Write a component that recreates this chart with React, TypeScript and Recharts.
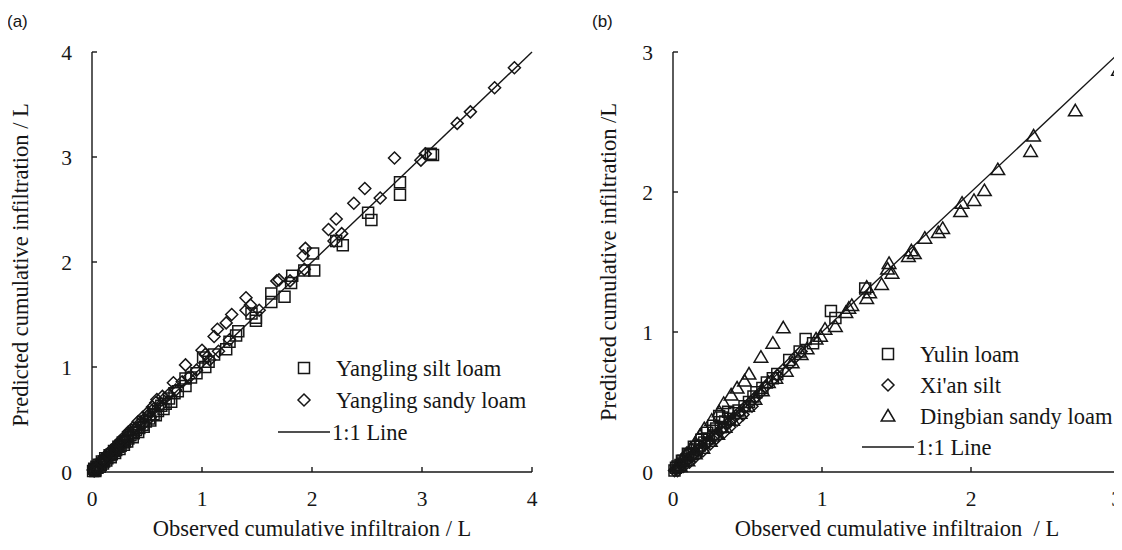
import React from "react";
import { ScatterChart, Scatter, XAxis, YAxis, ReferenceLine, Legend } from "recharts";

const INK = "#161616";
const SERIF = "'Liberation Serif', 'Times New Roman', serif";

// (a) Yangling silt loam (squares)
const siltObs = [
    0.01, 0.02, 0.03, 0.04, 0.05, 0.06, 0.08, 0.09, 0.11, 0.12, 0.14, 0.16, 0.18, 0.2, 0.22, 0.24,
    0.26, 0.28, 0.3, 0.33, 0.35, 0.38, 0.4, 0.43, 0.46, 0.49, 0.52, 0.56, 0.6, 0.63, 0.67, 0.7,
    0.75, 0.78, 0.85, 0.85, 0.9, 0.95, 1.01, 1.03, 1.06, 1.11, 1.22, 1.25, 1.31, 1.33, 1.45, 1.49,
    1.49, 1.63, 1.63, 1.75, 1.81, 1.82, 1.93, 2.01, 2.02, 2.22, 2.28, 2.51, 2.54, 2.8, 2.8, 3.08, 3.1,
    0.03, 0.07, 0.1, 0.13, 0.17, 0.21, 0.25, 0.29, 0.32, 0.37, 0.42, 0.47, 0.53, 0.58, 0.65, 0.72,
];
const siltPred = [
    0.01, 0.03, 0.02, 0.05, 0.04, 0.07, 0.07, 0.1, 0.1, 0.13, 0.13, 0.16, 0.17, 0.2, 0.21, 0.24,
    0.25, 0.28, 0.29, 0.32, 0.35, 0.37, 0.4, 0.42, 0.45, 0.48, 0.51, 0.55, 0.58, 0.63, 0.65, 0.7,
    0.75, 0.77, 0.82, 0.89, 0.9, 0.94, 1.09, 1.0, 1.05, 1.12, 1.17, 1.24, 1.3, 1.34, 1.51, 1.44,
    1.47, 1.62, 1.7, 1.67, 1.8, 1.87, 1.92, 2.08, 1.92, 2.2, 2.16, 2.47, 2.4, 2.76, 2.64, 3.03, 3.02,
    0.01, 0.05, 0.08, 0.11, 0.14, 0.18, 0.22, 0.26, 0.29, 0.33, 0.38, 0.43, 0.49, 0.54, 0.6, 0.67,
];

// (a) Yangling sandy loam (diamonds)
const sandyObs = [
    0.01, 0.02, 0.03, 0.05, 0.06, 0.07, 0.09, 0.1, 0.12, 0.13, 0.15, 0.17, 0.19, 0.21, 0.23, 0.25,
    0.27, 0.29, 0.31, 0.34, 0.36, 0.39, 0.41, 0.44, 0.47, 0.5, 0.53, 0.56, 0.59, 0.62, 0.66, 0.7,
    0.74, 0.76, 0.82, 0.85, 0.88, 0.95, 1.0, 1.03, 1.07, 1.11, 1.14, 1.15, 1.22, 1.27, 1.25, 1.4,
    1.4, 1.44, 1.52, 1.68, 1.7, 1.8, 1.92, 1.93, 1.94, 2.15, 2.2, 2.22, 2.27, 2.38, 2.48, 2.62,
    2.75, 2.99, 3.03, 3.32, 3.44, 3.66, 3.84,
    0.04, 0.08, 0.11, 0.14, 0.18, 0.22, 0.26, 0.3, 0.33, 0.37, 0.42, 0.46, 0.51, 0.55, 0.58, 0.64,
];
const sandyPred = [
    0.02, 0.01, 0.04, 0.06, 0.05, 0.09, 0.08, 0.12, 0.11, 0.15, 0.14, 0.19, 0.18, 0.23, 0.22, 0.27,
    0.26, 0.31, 0.3, 0.36, 0.35, 0.41, 0.4, 0.47, 0.46, 0.53, 0.52, 0.6, 0.69, 0.63, 0.7, 0.74,
    0.85, 0.78, 0.86, 1.02, 0.9, 0.97, 1.16, 1.12, 1.07, 1.29, 1.36, 1.15, 1.42, 1.5, 1.26, 1.54,
    1.66, 1.59, 1.54, 1.82, 1.83, 1.82, 2.06, 1.93, 2.13, 2.31, 2.2, 2.41, 2.27, 2.56, 2.7, 2.61,
    2.99, 2.97, 3.03, 3.32, 3.43, 3.66, 3.85,
    0.03, 0.1, 0.13, 0.17, 0.21, 0.25, 0.3, 0.34, 0.38, 0.42, 0.48, 0.52, 0.57, 0.62, 0.66, 0.72,
];

// (b) Yulin loam (squares)
const yulinObs = [
    0.01, 0.03, 0.05, 0.07, 0.09, 0.11, 0.13, 0.16, 0.18, 0.21, 0.24, 0.27, 0.29, 0.32, 0.31, 0.35,
    0.38, 0.41, 0.44, 0.48, 0.51, 0.54, 0.56, 0.6, 0.63, 0.67, 0.7, 0.78, 0.85, 0.89, 0.94, 1.06,
    1.09, 1.29, 0.02, 0.06, 0.1, 0.14, 0.19, 0.23, 0.27, 0.33, 0.37,
];
const yulinPred = [
    0.01, 0.04, 0.05, 0.08, 0.09, 0.12, 0.13, 0.16, 0.19, 0.21, 0.24, 0.26, 0.31, 0.32, 0.4, 0.36,
    0.38, 0.42, 0.44, 0.47, 0.5, 0.54, 0.57, 0.6, 0.64, 0.67, 0.7, 0.8, 0.86, 0.95, 0.92, 1.15,
    1.1, 1.31, 0.03, 0.08, 0.13, 0.18, 0.23, 0.28, 0.33, 0.39, 0.43,
];

// (b) Xi'an silt (diamonds)
const xianObs = [
    0.01, 0.02, 0.04, 0.06, 0.08, 0.1, 0.12, 0.14, 0.17, 0.19, 0.22, 0.24, 0.27, 0.3, 0.33, 0.36,
    0.39, 0.42, 0.45, 0.48, 0.52, 0.55, 0.58, 0.62, 0.66, 0.7, 0.74, 0.78, 0.82, 0.86,
    0.03, 0.07, 0.11, 0.15, 0.2, 0.25, 0.29, 0.34, 0.38, 0.43, 0.47, 0.53,
];
const xianPred = [
    0.01, 0.02, 0.03, 0.05, 0.07, 0.09, 0.11, 0.13, 0.15, 0.18, 0.2, 0.22, 0.25, 0.28, 0.31, 0.34,
    0.37, 0.4, 0.43, 0.46, 0.5, 0.53, 0.56, 0.61, 0.65, 0.69, 0.73, 0.77, 0.82, 0.86,
    0.01, 0.04, 0.07, 0.11, 0.15, 0.2, 0.24, 0.28, 0.32, 0.37, 0.41, 0.47,
];

// (b) Dingbian sandy loam (triangles)
const dingObs = [
    0.03, 0.06, 0.09, 0.12, 0.15, 0.18, 0.21, 0.26, 0.31, 0.34, 0.39, 0.43, 0.48, 0.51, 0.59, 0.67,
    0.74, 0.05, 0.1, 0.15, 0.2, 0.25, 0.3, 0.35, 0.4, 0.45, 0.5, 0.55, 0.6, 0.64, 0.69, 0.76,
    0.8, 0.86, 0.9, 0.96, 0.99, 1.02, 1.09, 1.16, 1.18, 1.2, 1.3, 1.3, 1.32, 1.4, 1.45, 1.47,
    1.44, 1.58, 1.62, 1.6, 1.69, 1.78, 1.81, 1.93, 1.94, 2.02, 2.09, 2.18, 2.4, 2.42, 2.7, 2.99,
];
const dingPred = [
    0.05, 0.09, 0.13, 0.17, 0.21, 0.26, 0.31, 0.37, 0.43, 0.49, 0.55, 0.6, 0.65, 0.7, 0.82, 0.92,
    1.03, 0.04, 0.08, 0.13, 0.17, 0.22, 0.27, 0.32, 0.37, 0.42, 0.47, 0.52, 0.58, 0.64, 0.67, 0.72,
    0.78, 0.84, 0.88, 0.95, 0.97, 1.02, 1.04, 1.14, 1.17, 1.19, 1.24, 1.32, 1.28, 1.34, 1.49, 1.42,
    1.45, 1.54, 1.56, 1.58, 1.67, 1.71, 1.74, 1.86, 1.92, 1.94, 2.01, 2.16, 2.29, 2.4, 2.58, 2.87,
];

const ticksA = [0, 1, 2, 3, 4];
const ticksB = [0, 1, 2, 3];

const legendA = [
    { label: "Yangling silt loam", kind: "square" },
    { label: "Yangling sandy loam", kind: "diamond" },
    { label: "1:1 Line", kind: "line" },
];
const legendB = [
    { label: "Yulin loam", kind: "square" },
    { label: "Xi'an silt", kind: "diamond" },
    { label: "Dingbian sandy loam", kind: "triangle" },
    { label: "1:1 Line", kind: "line" },
];

const pts = (obs: number[], pred: number[]) => obs.map((x, i) => ({ x, y: pred[i] }));

const mark = { fill: "none", stroke: INK, strokeWidth: 1.5 };

function squarePath(cx: number, cy: number) {
    return `M${cx - 5.5},${cy - 5.5}h11v11h-11Z`;
}
function diamondPath(cx: number, cy: number) {
    return `M${cx},${cy - 6}L${cx + 6},${cy}L${cx},${cy + 6}L${cx - 6},${cy}Z`;
}
function trianglePath(cx: number, cy: number) {
    return `M${cx},${cy - 6.5}L${cx + 6.8},${cy + 5}L${cx - 6.8},${cy + 5}Z`;
}

const Square = (p: any) => <path d={squarePath(p.cx, p.cy)} {...mark} />;
const Diamond = (p: any) => <path d={diamondPath(p.cx, p.cy)} {...mark} />;
const Triangle = (p: any) => <path d={trianglePath(p.cx, p.cy)} {...mark} />;

function LegendBox({ items, left, top, row, lineFrom }: any) {
    const h = top + row * items.length + 20;
    return (
        <svg width={560} height={h} style={{ position: "absolute", left: 0, top: 0, overflow: "visible" }}>
            {items.map((it: any, i: number) => {
                const y = top + i * row;
                let sym = null;
                if (it.kind === "square") sym = <path d={squarePath(left, y)} {...mark} />;
                if (it.kind === "diamond") sym = <path d={diamondPath(left, y)} {...mark} />;
                if (it.kind === "triangle") sym = <path d={trianglePath(left, y)} {...mark} />;
                if (it.kind === "line")
                    sym = <line x1={lineFrom} x2={left + 26} y1={y} y2={y} stroke={INK} strokeWidth={1.5} />;
                return (
                    <g key={it.label}>
                        {sym}
                        <text
                            x={it.kind === "line" ? left + 28 : left + 32}
                            y={y + 7.5}
                            fontFamily={SERIF}
                            fontSize={22.5}
                            fill={INK}
                        >
                            {it.label}
                        </text>
                    </g>
                );
            })}
        </svg>
    );
}

const tickStyle = { fontFamily: SERIF, fontSize: 21.5, fill: INK };

export default function App() {
    return (
        <div style={{ position: "relative", width: 1122, height: 550, margin: -8, background: "#fff", overflow: "hidden" }}>
            <div style={{ position: "absolute", left: 0, top: 0 }}>
                <ScatterChart width={560} height={550} margin={{ top: 52, right: 28, bottom: 48, left: 0 }}>
                    <XAxis
                        type="number"
                        dataKey="x"
                        domain={[0, 4]}
                        ticks={ticksA}
                        height={30}
                        tickSize={-5}
                        tickMargin={24}
                        stroke={INK}
                        strokeWidth={1.4}
                        tick={tickStyle}
                    />
                    <YAxis
                        type="number"
                        dataKey="y"
                        domain={[0, 4]}
                        ticks={ticksA}
                        width={92}
                        tickSize={-5}
                        tickMargin={25}
                        stroke={INK}
                        strokeWidth={1.4}
                        tick={tickStyle}
                    />
                    <ReferenceLine
                        segment={[{ x: 0, y: 0 }, { x: 4, y: 4 }]}
                        stroke={INK}
                        strokeWidth={1.4}
                    />
                    <Scatter name="Yangling silt loam" data={pts(siltObs, siltPred)} shape={Square} isAnimationActive={false} />
                    <Scatter name="Yangling sandy loam" data={pts(sandyObs, sandyPred)} shape={Diamond} isAnimationActive={false} />
                    <Legend
                        layout="vertical"
                        align="center"
                        verticalAlign="middle"
                        wrapperStyle={{ position: "absolute", left: 0, top: 0, width: 560, height: 0 }}
                        content={() => <LegendBox items={legendA} left={304} top={368} row={32} lineFrom={278} />}
                    />
                </ScatterChart>
            </div>
            <div style={{ position: "absolute", left: 560, top: 0 }}>
                <ScatterChart width={562} height={550} margin={{ top: 52, right: 2, bottom: 48, left: 0 }}>
                    <XAxis
                        type="number"
                        dataKey="x"
                        domain={[0, 3]}
                        ticks={ticksB}
                        height={30}
                        tickSize={-5}
                        tickMargin={24}
                        stroke={INK}
                        strokeWidth={1.4}
                        tick={tickStyle}
                    />
                    <YAxis
                        type="number"
                        dataKey="y"
                        domain={[0, 3]}
                        ticks={ticksB}
                        width={113}
                        tickSize={-5}
                        tickMargin={25}
                        stroke={INK}
                        strokeWidth={1.4}
                        tick={tickStyle}
                    />
                    <ReferenceLine
                        segment={[{ x: 0, y: 0 }, { x: 3, y: 3 }]}
                        stroke={INK}
                        strokeWidth={1.4}
                    />
                    <Scatter name="Yulin loam" data={pts(yulinObs, yulinPred)} shape={Square} isAnimationActive={false} />
                    <Scatter name="Xi'an silt" data={pts(xianObs, xianPred)} shape={Diamond} isAnimationActive={false} />
                    <Scatter name="Dingbian sandy loam" data={pts(dingObs, dingPred)} shape={Triangle} isAnimationActive={false} />
                    <Legend
                        layout="vertical"
                        align="center"
                        verticalAlign="middle"
                        wrapperStyle={{ position: "absolute", left: 0, top: 0, width: 562, height: 0 }}
                        content={() => <LegendBox items={legendB} left={328} top={354} row={31} lineFrom={302} />}
                    />
                </ScatterChart>
            </div>
            {/* panel letters and axis titles */}
            <svg width={1122} height={550} style={{ position: "absolute", left: 0, top: 0, pointerEvents: "none" }}>
                <text x={7} y={27} fontFamily="'Liberation Sans', Arial, sans-serif" fontSize={17} fill={INK}>(a)</text>
                <text x={592} y={27} fontFamily="'Liberation Sans', Arial, sans-serif" fontSize={17} fill={INK}>(b)</text>
                <text x={312} y={536} textAnchor="middle" fontFamily={SERIF} fontSize={22.5} fill={INK}>
                    Observed cumulative infiltraion / L
                </text>
                <text x={897} y={536} textAnchor="middle" fontFamily={SERIF} fontSize={22.5} fill={INK} style={{ whiteSpace: "pre" }}>
                    {"Observed cumulative infiltraion  / L"}
                </text>
                <text transform="translate(28,265) rotate(-90)" textAnchor="middle" fontFamily={SERIF} fontSize={22.5} fill={INK}>
                    Predicted cumulative infiltration / L
                </text>
                <text transform="translate(616,262) rotate(-90)" textAnchor="middle" fontFamily={SERIF} fontSize={22.5} fill={INK}>
                    Predicted cumulative infiltration /L
                </text>
            </svg>
        </div>
    );
}
